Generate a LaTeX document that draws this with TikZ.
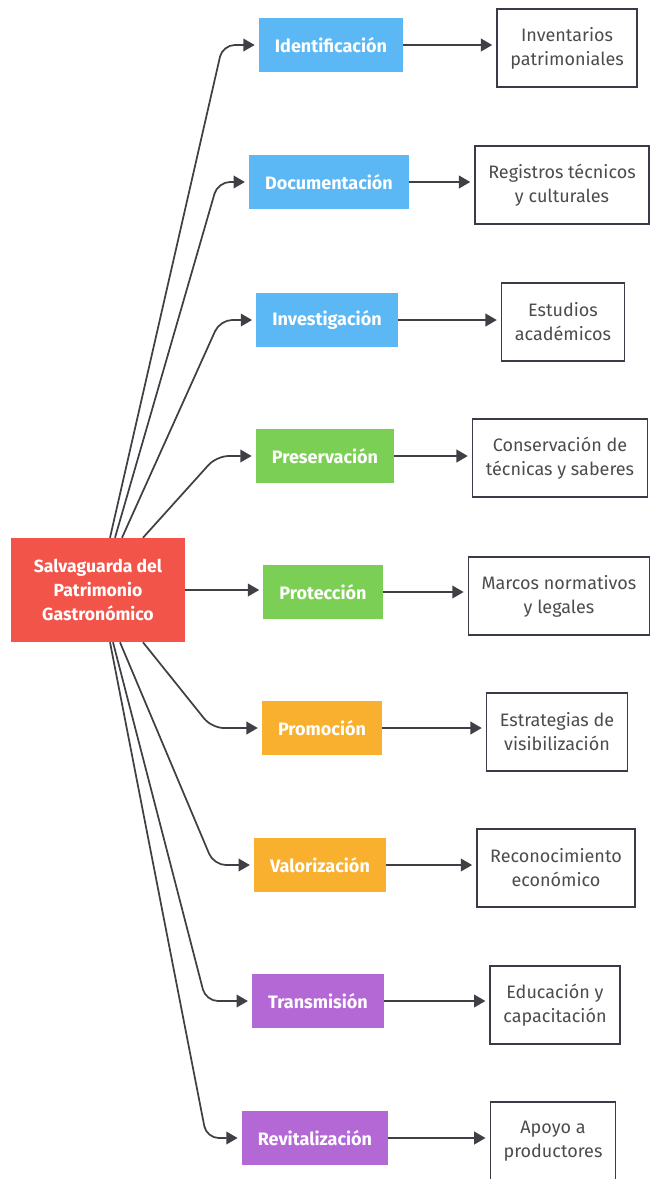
\documentclass[tikz,border=0pt]{standalone}
\usepackage{fontspec}
\setmainfont{Fira Sans}
\usetikzlibrary{arrows.meta}

\definecolor{skyfill}{HTML}{5CB8F4}
\definecolor{greenfill}{HTML}{7CCF55}
\definecolor{orangefill}{HTML}{F9B02E}
\definecolor{purplefill}{HTML}{B468D6}
\definecolor{redfill}{HTML}{F2544A}
\definecolor{linkgray}{HTML}{3E4046}
\definecolor{leafline}{HTML}{3A3A48}

\begin{document}
\begin{tikzpicture}[
        x = 0.75pt, y = -0.75pt,
        root/.style = {
            fill=redfill,
            text=white,
            font=\fontsize{13.2}{18}\selectfont\bfseries,
            align=center,
            minimum width = 130pt,
            minimum height = 78pt,
            inner sep = 0pt
        },
        mid/.style = {
            fill=#1,
            text=white,
            font=\fontsize{13.5}{15}\selectfont\bfseries,
            minimum height = 40.5pt,
            inner xsep = 12pt,
            inner ysep = 0pt
        },
        mid/.default = skyfill,
        leaf/.style = {
            draw=leafline,
            line width = 1.1pt,
            fill=white,
            text=black!70,
            font=\fontsize{13.5}{18}\selectfont,
            align=center,
            minimum height = 58.5pt,
            inner xsep = 10pt,
            inner ysep = 0pt
        },
        link/.style = {
            draw=linkgray,
            line width = 1.3pt,
            rounded corners = 9pt,
            -{Triangle[length=8.5pt, width=9.5pt]},
            shorten > = 3pt
        }
    ]
    \useasboundingbox (0,0) rectangle (655,1179);

    \node[root] (root) at (98,590) {Salvaguarda del\\Patrimonio\\Gastronómico};

    \node[mid=skyfill] (m1) at (331,45) {Identificación};
    \node[mid=skyfill] (m2) at (329,182) {Documentación};
    \node[mid=skyfill] (m3) at (327,320) {Investigación};
    \node[mid=greenfill] (m4) at (325,456) {Preservación};
    \node[mid=greenfill] (m5) at (323,592) {Protección};
    \node[mid=orangefill] (m6) at (322,728) {Promoción};
    \node[mid=orangefill] (m7) at (320,865) {Valorización};
    \node[mid=purplefill] (m8) at (318,1001) {Transmisión};
    \node[mid=purplefill] (m9) at (315,1138) {Revitalización};

    \node[leaf] (l1) at (567,48) {Inventarios\\patrimoniales};
    \node[leaf] (l2) at (562,185) {Registros técnicos\\y culturales};
    \node[leaf] (l3) at (563,322) {Estudios\\académicos};
    \node[leaf] (l4) at (560,458) {Conservación de\\técnicas y saberes};
    \node[leaf] (l5) at (559,596) {Marcos normativos\\y legales};
    \node[leaf] (l6) at (557,732) {Estrategias de\\visibilización};
    \node[leaf] (l7) at (556,868) {Reconocimiento\\económico};
    \node[leaf] (l8) at (555,1005) {Educación y\\capacitación};
    \node[leaf] (l9) at (553,1141) {Apoyo a\\productores};

    % root to the upper and lower steps
    \foreach \m/\s/\c in {m1/12/36, m2/17/31, m3/24/36, m4/45/39}
        \draw[link] ([xshift=\s*0.75pt]root.north) -- ([xshift=-\c*0.75pt]\m.west) -- (\m.west);
    \foreach \m/\s/\c in {m6/45/50, m7/22/40, m8/15/46, m9/12/35}
        \draw[link] ([xshift=\s*0.75pt]root.south) -- ([xshift=-\c*0.75pt]\m.west) -- (\m.west);
    \draw[link] (root.east) -- (root.east -| m5.west);

    % steps to results
    \foreach \i in {1,...,9}
        \draw[link] (m\i.east) -- (m\i.east -| l\i.west);
\end{tikzpicture}
\end{document}
